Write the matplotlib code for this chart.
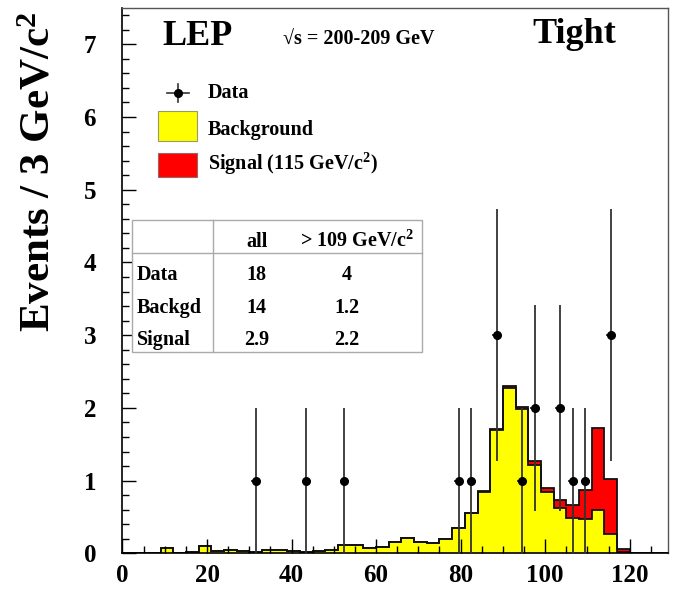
import matplotlib
matplotlib.use("Agg")
import matplotlib.pyplot as plt
import numpy as np
from matplotlib.patches import Rectangle
from matplotlib.lines import Line2D
from matplotlib.ticker import MultipleLocator

plt.rcParams['font.family'] = ['Liberation Serif', 'DejaVu Serif']
plt.rcParams['font.weight'] = 'bold'
plt.rcParams['mathtext.fontset'] = 'custom'
plt.rcParams['mathtext.rm'] = 'Liberation Serif:bold'
plt.rcParams['mathtext.bf'] = 'Liberation Serif:bold'
plt.rcParams['mathtext.it'] = 'Liberation Serif:bold'
plt.rcParams['mathtext.default'] = 'bf'

# ---- data ----
bin_edges = np.arange(0, 130, 3)  # 3 GeV bins, 0..129
background = [0, 0, 0, 0.07, 0.005, 0.02, 0.10, 0.03, 0.04, 0.03,
              0.02, 0.04, 0.05, 0.03, 0.02, 0.03, 0.05, 0.11, 0.11, 0.07,
              0.09, 0.15, 0.21, 0.15, 0.14, 0.20, 0.35, 0.55, 0.84, 1.70,
              2.27, 1.98, 1.22, 0.84, 0.62, 0.48, 0.47, 0.60, 0.26, 0.02,
              0.005, 0, 0]
signal = [0, 0, 0, 0, 0, 0, 0, 0, 0, 0,
          0, 0, 0, 0, 0, 0, 0, 0, 0, 0,
          0, 0, 0, 0, 0, 0, 0, 0, 0.01, 0.01,
          0.03, 0.03, 0.05, 0.06, 0.11, 0.19, 0.40, 1.12, 0.76, 0.04,
          0.005, 0, 0]
data_x = [31.5, 43.5, 52.5, 79.5, 82.5, 88.5, 94.5, 97.5, 103.5, 106.5, 109.5, 115.5]
data_n = [1, 1, 1, 1, 1, 3, 1, 2, 2, 1, 1, 3]

table_header = ["all", "> 109 GeV/c$^{2}$"]
table_rows = ["Data", "Backgd", "Signal"]
table_all = ["18", "14", "2.9"]
table_high = ["4", "1.2", "2.2"]

legend_labels = ["Data", "Background", "Signal (115 GeV/c$^{2}$)"]

bkg = np.array(background)
sig = np.array(signal)
dn = np.array(data_n, dtype=float)

fig = plt.figure(figsize=(6.74, 5.91), dpi=100)
ax = fig.add_axes([0.1817, 0.0638, 0.809, 0.9227])

ax.stairs(bkg, bin_edges, fill=True, color='#ffff00', zorder=1)
ax.stairs(bkg + sig, bin_edges, baseline=bkg, fill=True, color='#ff0000', zorder=1.1)
ax.stairs(bkg, bin_edges, color='#111111', lw=1.3, zorder=1.2)
ax.stairs(bkg + sig, bin_edges, color='#111111', lw=1.3, zorder=1.3)

ax.errorbar(data_x, dn, yerr=np.sqrt(dn), xerr=1.1, fmt='o', color='k',
            ecolor='#333333', elinewidth=1.3, ms=5.5, capsize=0, zorder=3)

ax.set_xlim(0, 129)
ax.set_ylim(0, 7.5)
ax.xaxis.set_major_locator(MultipleLocator(20))
ax.xaxis.set_minor_locator(MultipleLocator(5))
ax.yaxis.set_major_locator(MultipleLocator(1))
ax.yaxis.set_minor_locator(MultipleLocator(0.2))
ax.tick_params(which='both', direction='in', top=False, right=False, labelsize=18, width=1)
ax.tick_params(which='major', length=10)
ax.tick_params(which='minor', length=5)
ax.tick_params(axis='y', pad=19)
ax.tick_params(axis='x', pad=8)
for s in ['left', 'bottom']:
    ax.spines[s].set_linewidth(1.2)
for s in ['top', 'right']:
    ax.spines[s].set_linewidth(1.0)
    ax.spines[s].set_color('#555555')

fig.text(40 / 674, 1 - 172 / 591, "Events / 3 GeV/c$^{2}$", rotation=90,
         ha='center', va='center', fontsize=31, fontweight='bold')

T = ax.transAxes
ax.text(0.0724, 0.932, "LEP", transform=T, fontsize=26, ha='left', va='baseline')
ax.text(0.2944, 0.932, "√s = 200-209 GeV", transform=T, fontsize=14.5, ha='left', va='baseline')
ax.text(0.751, 0.936, "Tight", transform=T, fontsize=26, ha='left', va='baseline')

# legend
mx, my = 0.1018, 0.844
ax.add_line(Line2D([mx - 0.021, mx + 0.021], [my, my], transform=T, color='#333333', lw=1.2))
ax.add_line(Line2D([mx, mx], [my - 0.017, my + 0.017], transform=T, color='#333333', lw=1.2))
ax.add_line(Line2D([mx], [my], transform=T, marker='o', color='k', ms=5.5))
ax.add_patch(Rectangle((0.0651, 0.756), 0.0716, 0.055, transform=T,
                       facecolor='#ffff00', edgecolor='#999966', lw=0.8))
ax.add_patch(Rectangle((0.0651, 0.690), 0.0716, 0.044, transform=T,
                       facecolor='#ff0000', edgecolor='#996666', lw=0.8))
for lab, yb in zip(legend_labels, [0.8344, 0.767, 0.703]):
    ax.text(0.157, yb, lab, transform=T, fontsize=14.5, ha='left', va='baseline')

# table
x0, x1, y0, y1 = 0.017, 0.549, 0.369, 0.611
ax.add_patch(Rectangle((x0, y0), x1 - x0, y1 - y0, transform=T,
                       facecolor='white', edgecolor='#aaaaaa', lw=1.0, zorder=4))
ax.add_line(Line2D([x0, x1], [0.551, 0.551], transform=T, color='#aaaaaa', lw=1.0, zorder=5))
ax.add_line(Line2D([0.166, 0.166], [y0, y1], transform=T, color='#aaaaaa', lw=1.0, zorder=5))
ax.text(0.246, 0.562, table_header[0], transform=T, fontsize=14.5, ha='center', va='baseline', zorder=6)
ax.text(0.4296, 0.562, table_header[1], transform=T, fontsize=14.5, ha='center', va='baseline', zorder=6)
for lab, va_all, va_hi, yb in zip(table_rows, table_all, table_high, [0.501, 0.440, 0.382]):
    ax.text(0.026, yb, lab, transform=T, fontsize=14.5, ha='left', va='baseline', zorder=6)
    ax.text(0.246, yb, va_all, transform=T, fontsize=14.5, ha='center', va='baseline', zorder=6)
    ax.text(0.411, yb, va_hi, transform=T, fontsize=14.5, ha='center', va='baseline', zorder=6)

fig.savefig("out.png", dpi=100)
